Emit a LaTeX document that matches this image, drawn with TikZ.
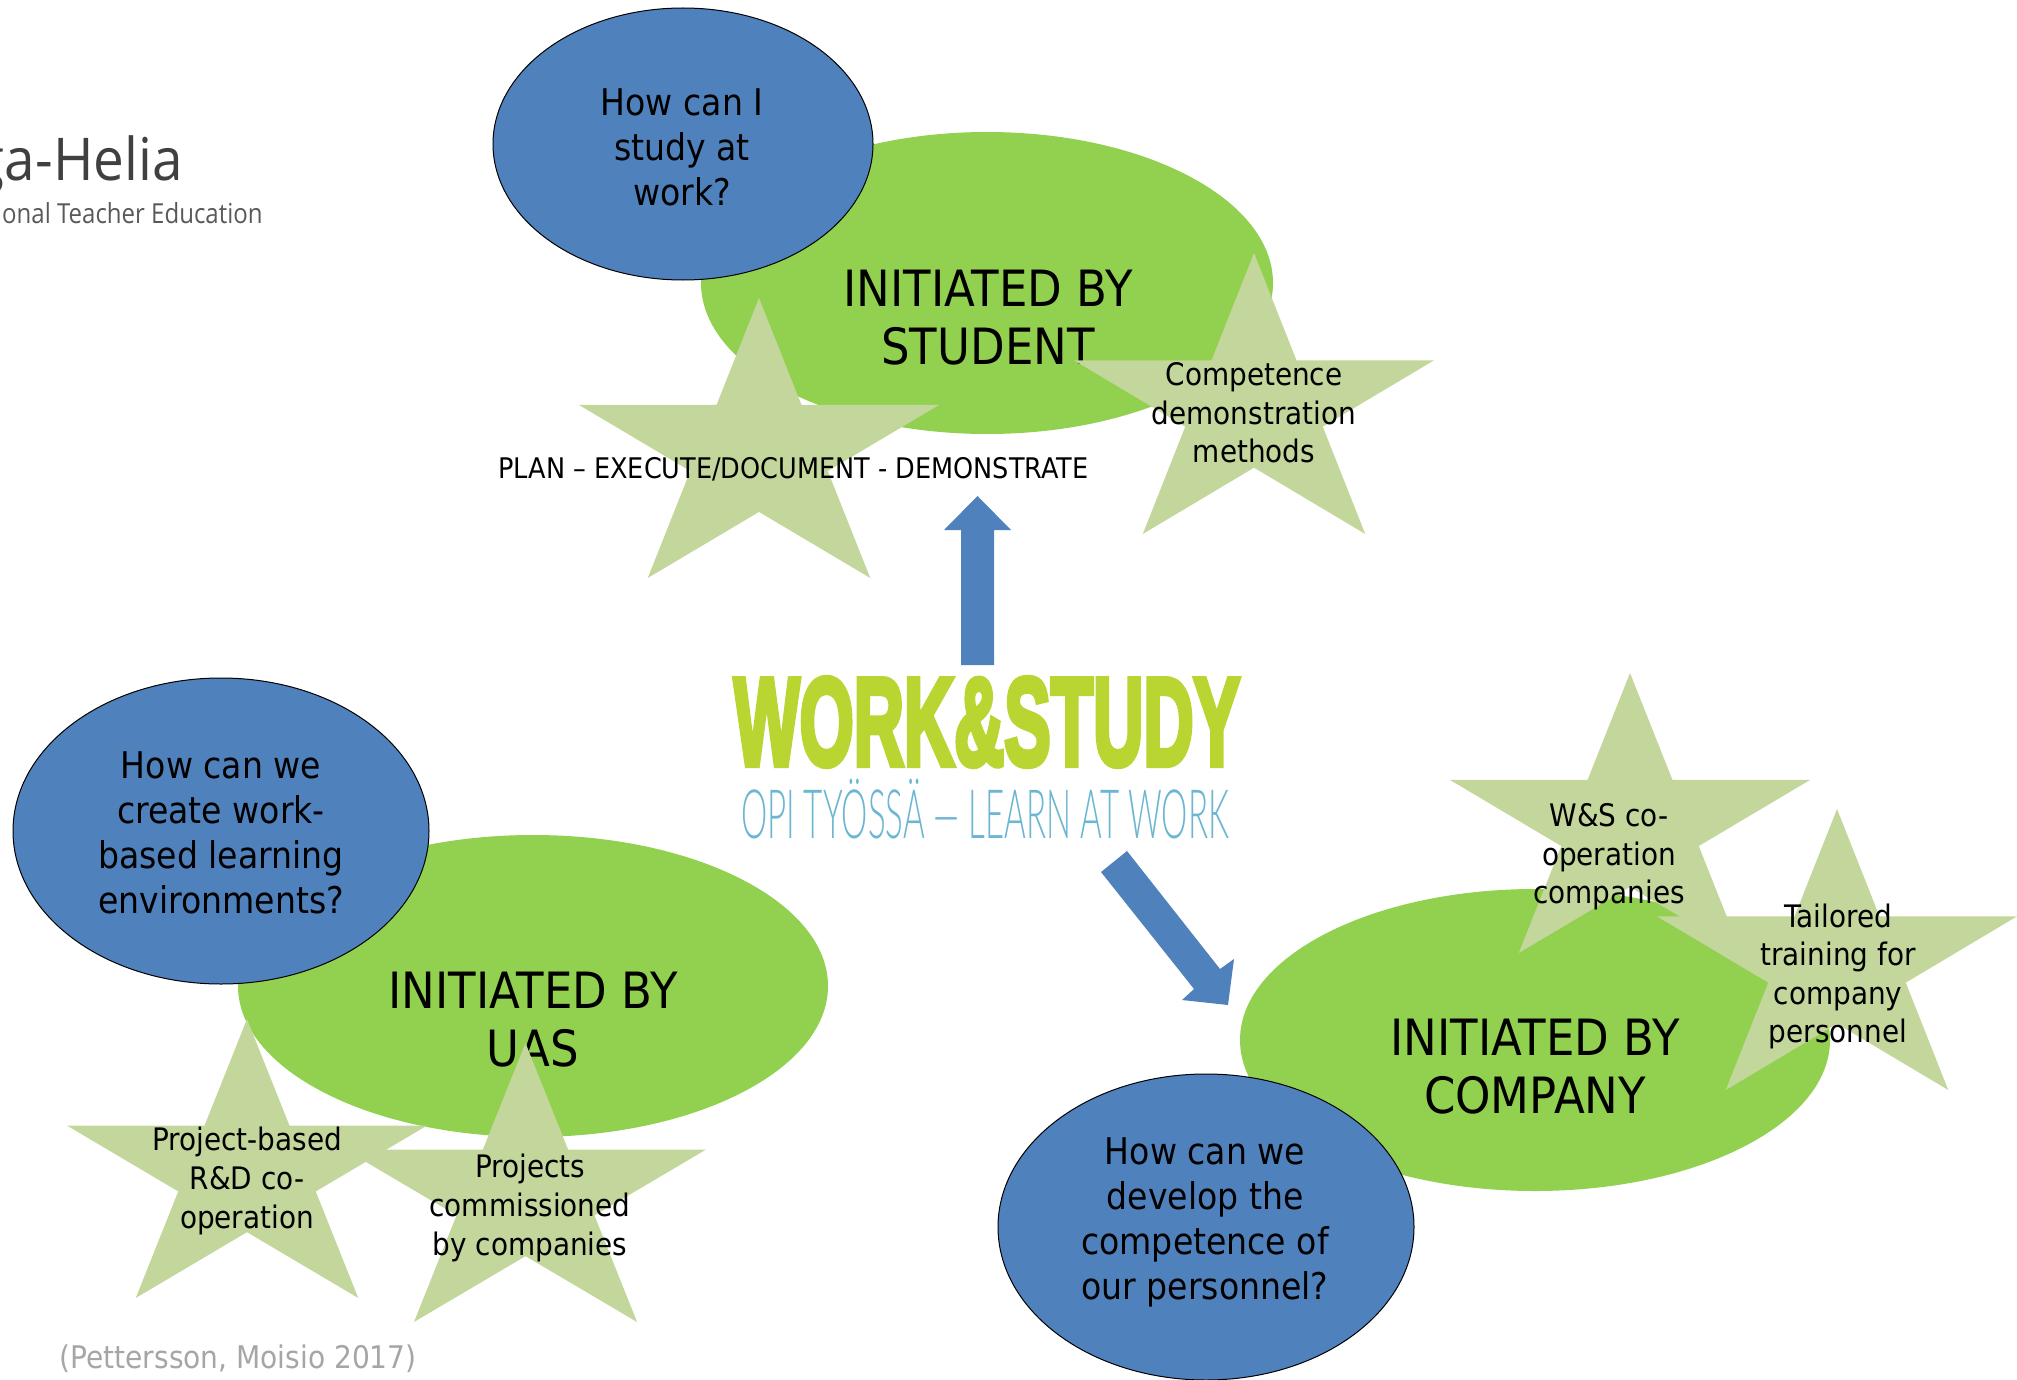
\documentclass[tikz,border=0pt]{standalone}
\usepackage{fontspec}
\setmainfont{DejaVu Sans}[FakeStretch=0.9]
\newfontfamily\logoheavy{Liberation Sans}[BoldFeatures={FakeBold=5}]
\newfontfamily\logothin{Lato Light}
\newfontfamily\hhfont{Open Sans}[FakeStretch=0.93]
\newfontfamily\hhsmall{Open Sans}[FakeStretch=0.87]
\usetikzlibrary{shapes.geometric}
\definecolor{bluefill}{HTML}{4F81BD}
\definecolor{greenfill}{HTML}{92D050}
\definecolor{starfill}{HTML}{C3D69B}
\definecolor{logogreen}{HTML}{B9D532}
\definecolor{logoblue}{HTML}{6DB6D2}
\tikzset{
  bigoval/.style={ellipse,fill=greenfill,inner sep=0pt,minimum width=590*0.5pt,minimum height=302*0.5pt},
  question/.style={ellipse,fill=bluefill,draw=black,line width=0.5pt,inner sep=0pt},
  questiontext/.style={inner sep=0pt,align=center,font=\fontsize{18.4}{22.5}\selectfont},
  title/.style={align=center,inner sep=0pt,font=\fontsize{25}{29}\selectfont},
  startext/.style={align=center,inner sep=0pt,font=\fontsize{15.5}{19.3}\selectfont},
  starshape/.style={fill=starfill},
  blockarrow/.style={fill=bluefill}
}
\newcommand{\fivestar}[4]{%
  \path[starshape] ({#1+.5*#3},{#2}) -- ({#1+.618*#3},{#2+.382*#4}) -- ({#1+#3},{#2+.382*#4})
    -- ({#1+.691*#3},{#2+.618*#4}) -- ({#1+.809*#3},{#2+#4}) -- ({#1+.5*#3},{#2+.764*#4})
    -- ({#1+.191*#3},{#2+#4}) -- ({#1+.309*#3},{#2+.618*#4}) -- ({#1},{#2+.382*#4})
    -- ({#1+.382*#3},{#2+.382*#4}) -- cycle;}
\begin{document}
\begin{tikzpicture}[x=0.5pt,y=-0.5pt]
\useasboundingbox (0,0) rectangle (2017,1380);
\clip (0,0) rectangle (2017,1380);
% logo top-left
\node[anchor=base east,inner sep=0pt,text=black!75,font=\hhfont\fontsize{29.5}{30}\selectfont] (hh) at (183,181) {ga-Helia};
\node[anchor=base east,inner sep=0pt,text=black!65,font=\hhsmall\fontsize{13.8}{14}\selectfont] (hh2) at (263,224) {onal Teacher Education};
% green ovals
\node[bigoval,minimum width=286pt] (ostudent) at (987,283) {};
\node[bigoval] (ouas) at (533,986) {};
\node[bigoval] (ocompany) at (1535,1040) {};
\node[title] (tstudent) at (988,318) {INITIATED BY\\STUDENT};
\node[title] (tuas) at (533,1020) {INITIATED BY\\UAS};
\node[title] (tcompany) at (1535,1067) {INITIATED BY\\COMPANY};
% stars
\fivestar{579}{298}{360}{280}
\fivestar{1074}{253}{360}{281}
\fivestar{67}{1019}{360}{279}
\fivestar{345}{1043}{361}{279}
\fivestar{1450}{673}{360}{280}
\fivestar{1657}{809}{360}{281}
\node[startext] (s2) at (1254,413) {Competence\\demonstration\\methods};
\node[startext] (s3) at (247,1181) {Project-based\\R\&D co-\\operation};
\node[startext] (s4) at (530,1208) {Projects\\commissioned\\by companies};
\node[startext] (s5) at (1609,857) {W\&S co-\\operation\\companies};
\node[startext] (s6) at (1838,976.5) {Tailored\\training for\\company\\personnel};
\node[inner sep=0pt,font=\fontsize{14.2}{16}\selectfont] (plan) at (793.5,469) {PLAN – EXECUTE/DOCUMENT - DEMONSTRATE};
% blue ovals
\node[question,minimum width=190pt,minimum height=136pt] (q1) at (683,144) {};
\node[questiontext] (tq1) at (682,147) {How can I\\study at\\work?};
\node[question,minimum width=208pt,minimum height=153pt] (q2) at (221,831) {};
\node[questiontext] (tq2) at (221,833) {How can we\\create work-\\based learning\\environments?};
\node[question,minimum width=208pt,minimum height=153pt] (q3) at (1206,1227) {};
\node[questiontext] (tq3) at (1205,1222.5) {How can we\\develop the\\competence of\\our personnel?};
% block arrows
\path[blockarrow] (961,665) -- (961,530) -- (944,530) -- (977.5,496) -- (1011,530) -- (994,530) -- (994,665) -- cycle;
\path[blockarrow] (1127,851) -- (1220,969) -- (1234,959) -- (1228,1005) -- (1182,1000) -- (1194,989) -- (1101,872) -- cycle;
% central logo
\node[inner sep=0pt,text=logogreen] (logo1) at (987,722) {\resizebox{253pt}{43.5pt}{\logoheavy\bfseries WORK\&STUDY}};
\node[inner sep=0pt,text=logoblue] (logo2) at (985,813.5) {\resizebox{244pt}{24.5pt}{\raisebox{0pt}[0.72em][0pt]{\logothin OPI TYÖSSÄ — LEARN AT WORK}}};
% citation
\node[anchor=west,inner sep=0pt,text=black!35,font=\fontsize{15.6}{18}\selectfont] (cite) at (59,1359) {(Pettersson, Moisio 2017)};
\end{tikzpicture}
\end{document}
